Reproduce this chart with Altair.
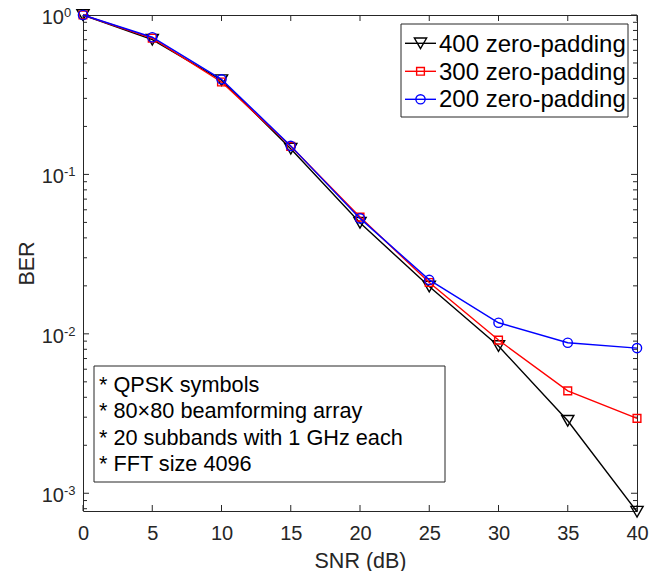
import altair as alt
import pandas as pd

# ---------------- data ----------------
snr = [0, 5, 10, 15, 20, 25, 30, 35, 40]
ber_400 = [1.0, 0.70, 0.39, 0.145, 0.0497, 0.0198, 0.00838, 0.00285, 0.000766]
ber_300 = [1.0, 0.715, 0.38, 0.150, 0.054, 0.021, 0.00914, 0.00439, 0.00295]
ber_200 = [1.0, 0.725, 0.395, 0.151, 0.053, 0.0218, 0.01174, 0.00879, 0.00814]

series_labels = ["400 zero-padding", "300 zero-padding", "200 zero-padding"]
series_values = [ber_400, ber_300, ber_200]
series_colors = ["#000000", "#ff0000", "#0000ff"]
series_shapes = ["triangle-down", "square", "circle"]
series_sizes = [150, 60, 85]

x_ticks = [0, 5, 10, 15, 20, 25, 30, 35, 40]
y_major = [1.0, 0.1, 0.01, 0.001]
y_exponents = ["0", "-1", "-2", "-3"]
y_minor = [0.0008, 0.0009,
           0.002, 0.003, 0.004, 0.005, 0.006, 0.007, 0.008, 0.009,
           0.02, 0.03, 0.04, 0.05, 0.06, 0.07, 0.08, 0.09,
           0.2, 0.3, 0.4, 0.5, 0.6, 0.7, 0.8, 0.9]

notes = ["* QPSK symbols", "* 80\u00d780 beamforming array",
         "* 20 subbands with 1 GHz each", "* FFT size 4096"]

# ---------------- layout ----------------
W, H = 554, 496
FONT = "Liberation Sans"
AX = "#262626"

xscale = alt.Scale(domain=[0, 40], nice=False, zero=False)
yscale = alt.Scale(type="log", domain=[0.000774, 1], nice=False)

xaxis = alt.Axis(values=x_ticks, ticks=False, domain=False, grid=False,
                 labelFontSize=20, labelFont=FONT, labelColor=AX, labelPadding=12,
                 labelFlush=False, labelOverlap=False,
                 title="SNR (dB)", titleFontSize=21.5, titleFont=FONT,
                 titleFontWeight="normal", titleColor=AX, titlePadding=7)
yaxis = alt.Axis(labels=False, ticks=False, domain=False, grid=False,
                 title="BER", titleFontSize=21.5, titleFont=FONT,
                 titleFontWeight="normal", titleColor=AX,
                 titleX=-50, titleY=H / 2, titleAngle=270,
                 titleAlign="center", titleBaseline="alphabetic")


def X(field):
    return alt.X(field, type="quantitative", scale=xscale, axis=xaxis)


def Y(field):
    return alt.Y(field, type="quantitative", scale=yscale, axis=yaxis)


layers = []

# inner tick marks (box style)
df_xt = pd.DataFrame({"xt": x_ticks})
layers.append(alt.Chart(df_xt).mark_rule(color=AX, strokeWidth=1).encode(
    x=X("xt"), y=alt.value(H), y2=alt.value(H - 6)))
layers.append(alt.Chart(df_xt).mark_rule(color=AX, strokeWidth=1).encode(
    x=X("xt"), y=alt.value(0), y2=alt.value(6)))

df_ym = pd.DataFrame({"yt": y_major, "exp": y_exponents})
df_yn = pd.DataFrame({"yt": y_minor})
for x0, x1, d in [(0, 6, df_ym), (W - 6, W, df_ym), (0, 4, df_yn), (W - 4, W, df_yn)]:
    layers.append(alt.Chart(d).mark_rule(color=AX, strokeWidth=1).encode(
        y=Y("yt"), x=alt.value(x0), x2=alt.value(x1)))

# y tick labels 10^k
layers.append(alt.Chart(df_ym).mark_text(
    align="right", baseline="alphabetic", dy=9, fontSize=20, font=FONT, color=AX
).encode(y=Y("yt"), x=alt.value(-19), text=alt.value("10")))
layers.append(alt.Chart(df_ym).mark_text(
    align="left", baseline="alphabetic", dy=2, fontSize=13, font=FONT, color=AX
).encode(y=Y("yt"), x=alt.value(-19), text="exp:N"))

# data series
for lab, vals, col, shp, sz in zip(series_labels, series_values, series_colors,
                                    series_shapes, series_sizes):
    df = pd.DataFrame({"snr": snr, "ber": vals})
    layers.append(alt.Chart(df).mark_line(color=col, strokeWidth=1.4).encode(
        x=X("snr"), y=Y("ber")))
    layers.append(alt.Chart(df).mark_point(
        shape=shp, size=sz, filled=False, color=col, strokeWidth=1.4, opacity=1
    ).encode(x=X("snr"), y=Y("ber")))

# legend box
one = pd.DataFrame({"k": [0]})
layers.append(alt.Chart(one).mark_rect(fill="white", stroke=AX, strokeWidth=1).encode(
    x=alt.value(318), x2=alt.value(545), y=alt.value(9), y2=alt.value(102)))
leg_marker_y = [28.3, 56.3, 84.3]
leg_text_y = [36.9, 64.5, 92.1]
for lab, col, shp, sz, my, ty in zip(series_labels, series_colors, series_shapes,
                                     series_sizes, leg_marker_y, leg_text_y):
    layers.append(alt.Chart(one).mark_rule(color=col, strokeWidth=1.4).encode(
        x=alt.value(322), x2=alt.value(353), y=alt.value(my)))
    layers.append(alt.Chart(one).mark_point(
        shape=shp, size=sz, filled=False, color=col, strokeWidth=1.4, opacity=1
    ).encode(x=alt.value(337.5), y=alt.value(my)))
    layers.append(alt.Chart(one).mark_text(
        align="left", baseline="alphabetic", fontSize=24, font=FONT, color="#000000"
    ).encode(x=alt.value(356), y=alt.value(ty), text=alt.value(lab)))

# annotation box
layers.append(alt.Chart(one).mark_rect(fill="white", stroke=AX, strokeWidth=1).encode(
    x=alt.value(11), x2=alt.value(362), y=alt.value(351), y2=alt.value(467)))
note_y = [376.5, 403, 429.5, 456]
for txt, ny in zip(notes, note_y):
    layers.append(alt.Chart(one).mark_text(
        align="left", baseline="alphabetic", fontSize=21.7, font=FONT, color="#000000"
    ).encode(x=alt.value(16), y=alt.value(ny), text=alt.value(txt)))

chart = alt.layer(*layers).properties(
    width=W, height=H,
    autosize=alt.AutoSizeParams(type="none"),
    padding={"left": 83, "top": 15, "right": 19, "bottom": 60},
    background="white",
).configure_view(stroke=AX, strokeWidth=1)

chart.save("out.html", embed_options={"renderer": "svg", "actions": False})
